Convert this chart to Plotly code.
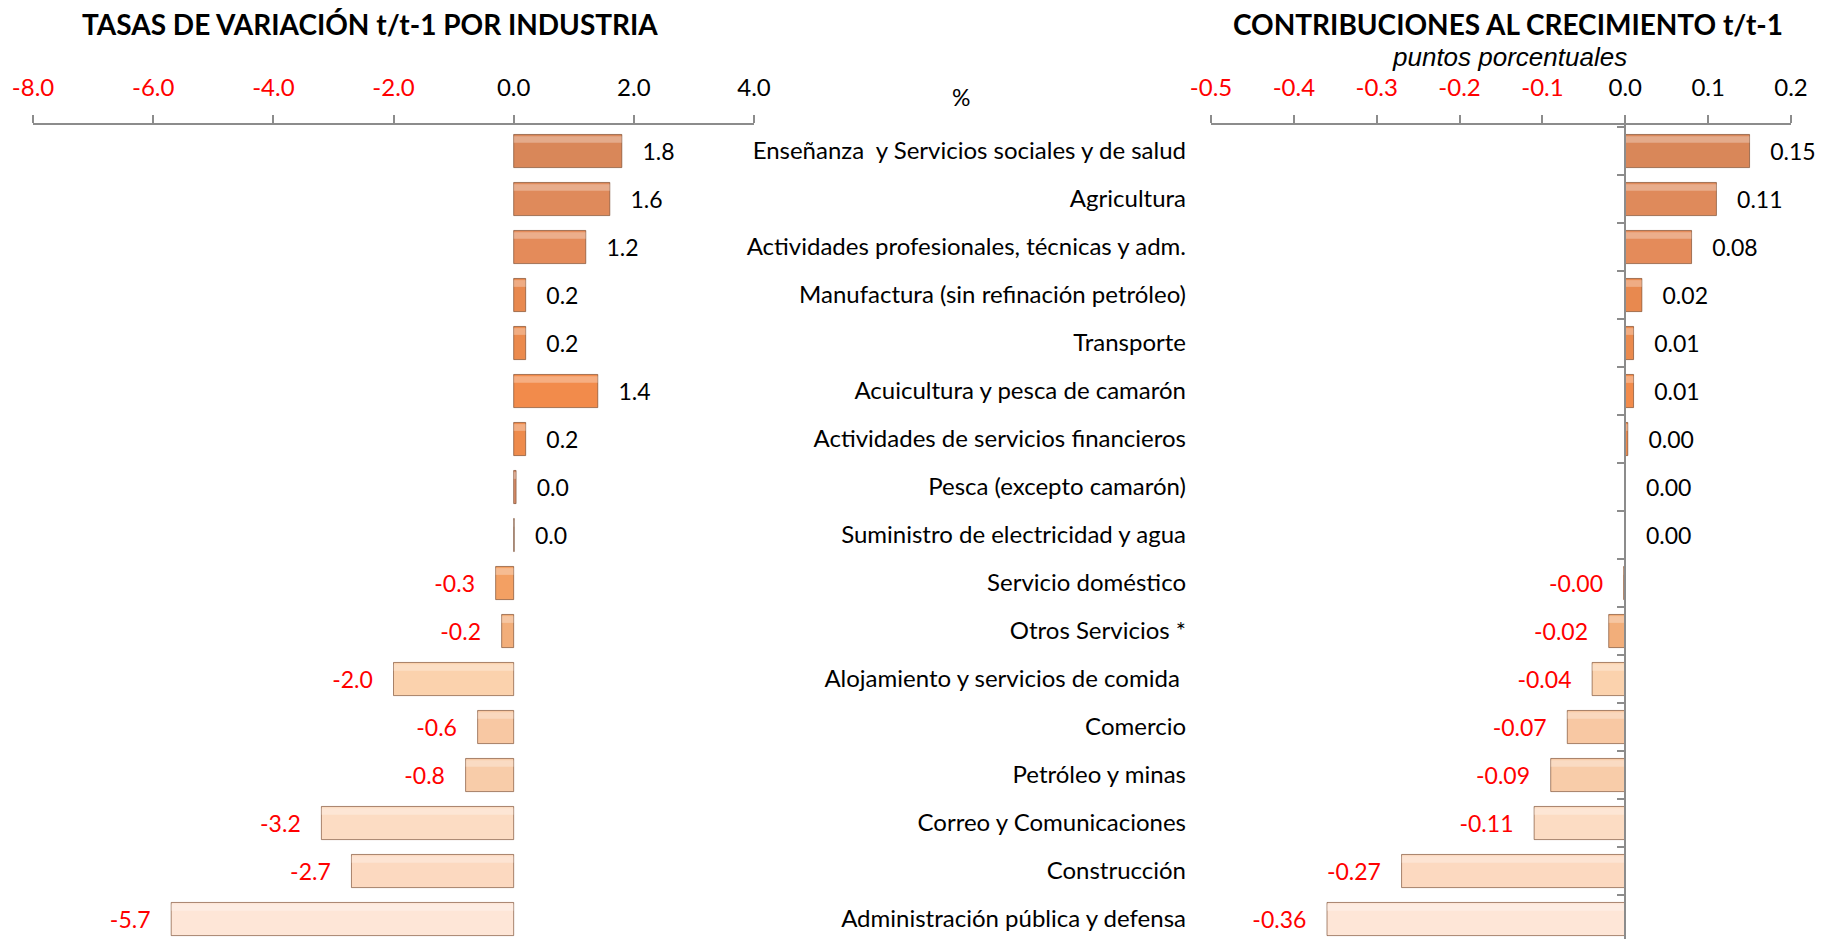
import plotly.graph_objects as go

W, H = 1826, 939
OFF = 8          # the page body adds an 8px margin around the figure
TOP = 125 - OFF

categories = [
    "Enseñanza  y Servicios sociales y de salud",
    "Agricultura",
    "Actividades profesionales, técnicas y adm.",
    "Manufactura (sin refinación petróleo)",
    "Transporte",
    "Acuicultura y pesca de camarón",
    "Actividades de servicios financieros",
    "Pesca (excepto camarón)",
    "Suministro de electricidad y agua",
    "Servicio doméstico",
    "Otros Servicios *",
    "Alojamiento y servicios de comida ",
    "Comercio",
    "Petróleo y minas",
    "Correo y Comunicaciones",
    "Construcción",
    "Administración pública y defensa",
]
tasas = [1.8, 1.6, 1.2, 0.2, 0.2, 1.4, 0.2, 0.04, 0.01,
         -0.3, -0.2, -2.0, -0.6, -0.8, -3.2, -2.7, -5.7]
contrib = [0.15, 0.11, 0.08, 0.02, 0.01, 0.01, 0.003, 0.0, 0.0,
           -0.002, -0.02, -0.04, -0.07, -0.09, -0.11, -0.27, -0.36]
left_ticks = [-8, -6, -4, -2, 0, 2, 4]
right_ticks = [-0.5, -0.4, -0.3, -0.2, -0.1, 0.0, 0.1, 0.2]

# bar colours, dark orange at the top fading to light peach at the bottom
bar_colors = ["#d98759", "#df8a5b", "#e48b5a", "#e8894f", "#eb8a4d", "#f28b4b",
              "#ee8b4c", "#d98f6c", "#d9cbc3", "#f3a063", "#f2ae7a", "#fbd2ad",
              "#f8c8a3", "#f8cca9", "#fcdcc3", "#fcd9c0", "#fee6d7"]

FONT = "Lato"
RED = "#ff0000"


def px_x(px):
    return (px - OFF) / W


def py(px):
    # screen pixel row -> paper y (plot area spans TOP..H in figure pixels)
    return (H - (px - OFF)) / (H - TOP)


LEFT_DOM = [px_x(33), px_x(754)]
RIGHT_DOM = [px_x(1211), px_x(1791)]
L_RANGE = [-8, 4]
R_RANGE = [-0.5, 0.2]


def tick_text(vals, fmt):
    out = []
    for v in vals:
        s = format(v, fmt)
        out.append(f'<span style="color:{RED}">{s}</span>' if v < 0 else s)
    return out


def bar_labels(vals, fmt):
    pad = "&nbsp;" * 3
    return [pad + format(v, fmt) if v >= 0 else format(v, fmt) + pad for v in vals]


fig = go.Figure()

for vals, fmt, xa, ya in [(tasas, ".1f", "x", "y"), (contrib, ".2f", "x2", "y2")]:
    fig.add_trace(go.Bar(
        y=categories, x=vals, orientation="h", width=0.69,
        marker=dict(color=bar_colors, line=dict(color="rgba(110,60,30,0.6)", width=1)),
        text=bar_labels(vals, fmt), textposition="outside", constraintext="none",
        textfont=dict(family=FONT, size=23, color=["black" if v >= 0 else RED for v in vals]),
        cliponaxis=False, xaxis=xa, yaxis=ya, showlegend=False,
    ))
    # light strip along the top of each bar, a rough stand-in for the bevel
    fig.add_trace(go.Bar(
        y=categories, x=vals, orientation="h", width=0.14, offset=-0.31,
        marker=dict(color="rgba(255,255,255,0.3)", line=dict(width=0)),
        hoverinfo="skip", xaxis=xa, yaxis=ya, showlegend=False,
    ))

band = 48
top_val = -0.542
y_range = [top_val + (H - TOP) / band, top_val]
zero_pos = RIGHT_DOM[0] + (0 - R_RANGE[0]) / (R_RANGE[1] - R_RANGE[0]) * (RIGHT_DOM[1] - RIGHT_DOM[0])

axis_common = dict(
    side="top", showline=True, linecolor="#8c8c8c", linewidth=1.5,
    ticks="outside", ticklen=8, tickcolor="#8c8c8c", tickwidth=1.5,
    showgrid=False, zeroline=False, ticklabelstandoff=10, automargin=False,
    tickfont=dict(family=FONT, size=24, color="black"),
)

fig.update_layout(
    width=W, height=H,
    margin=dict(l=0, r=0, t=TOP, b=0, autoexpand=False),
    paper_bgcolor="white", plot_bgcolor="white",
    barmode="overlay",
    font=dict(family=FONT, color="black"),
    xaxis=dict(domain=LEFT_DOM, range=L_RANGE, anchor="y",
               tickvals=left_ticks, ticktext=tick_text(left_ticks, ".1f"), **axis_common),
    xaxis2=dict(domain=RIGHT_DOM, range=R_RANGE, anchor="y2",
                tickvals=right_ticks, ticktext=tick_text(right_ticks, ".1f"), **axis_common),
    yaxis=dict(type="category", categoryorder="array", categoryarray=categories,
               range=y_range, anchor="free", position=px_x(1186), side="left",
               showline=False, ticks="", showgrid=False, zeroline=False, automargin=False,
               tickfont=dict(family=FONT, size=24, color="black")),
    yaxis2=dict(type="category", categoryorder="array", categoryarray=categories,
                range=y_range, anchor="free", position=zero_pos, side="left",
                showline=True, linecolor="#8c8c8c", linewidth=1.5,
                ticks="outside", tickson="boundaries", ticklen=8,
                tickcolor="#8c8c8c", tickwidth=1.5, automargin=False,
                showticklabels=False, showgrid=False, zeroline=False),
)

ann = dict(xref="paper", yref="paper", showarrow=False, xanchor="center", yanchor="middle")
fig.add_annotation(text="<b>TASAS DE VARIACIÓN t/t-1 POR INDUSTRIA</b>",
                   x=px_x(370), y=py(24), font=dict(family=FONT, size=28, color="black"), **ann)
fig.add_annotation(text="<b>CONTRIBUCIONES AL CRECIMIENTO t/t-1</b>",
                   x=px_x(1508), y=py(24), font=dict(family=FONT, size=28, color="black"), **ann)
fig.add_annotation(text="<i>puntos porcentuales</i>",
                   x=px_x(1509), y=py(57), font=dict(family="Liberation Sans", size=26, color="black"), **ann)
fig.add_annotation(text="%", x=px_x(961), y=py(97),
                   font=dict(family=FONT, size=23, color="black"), **ann)

fig.write_html("out.html")
